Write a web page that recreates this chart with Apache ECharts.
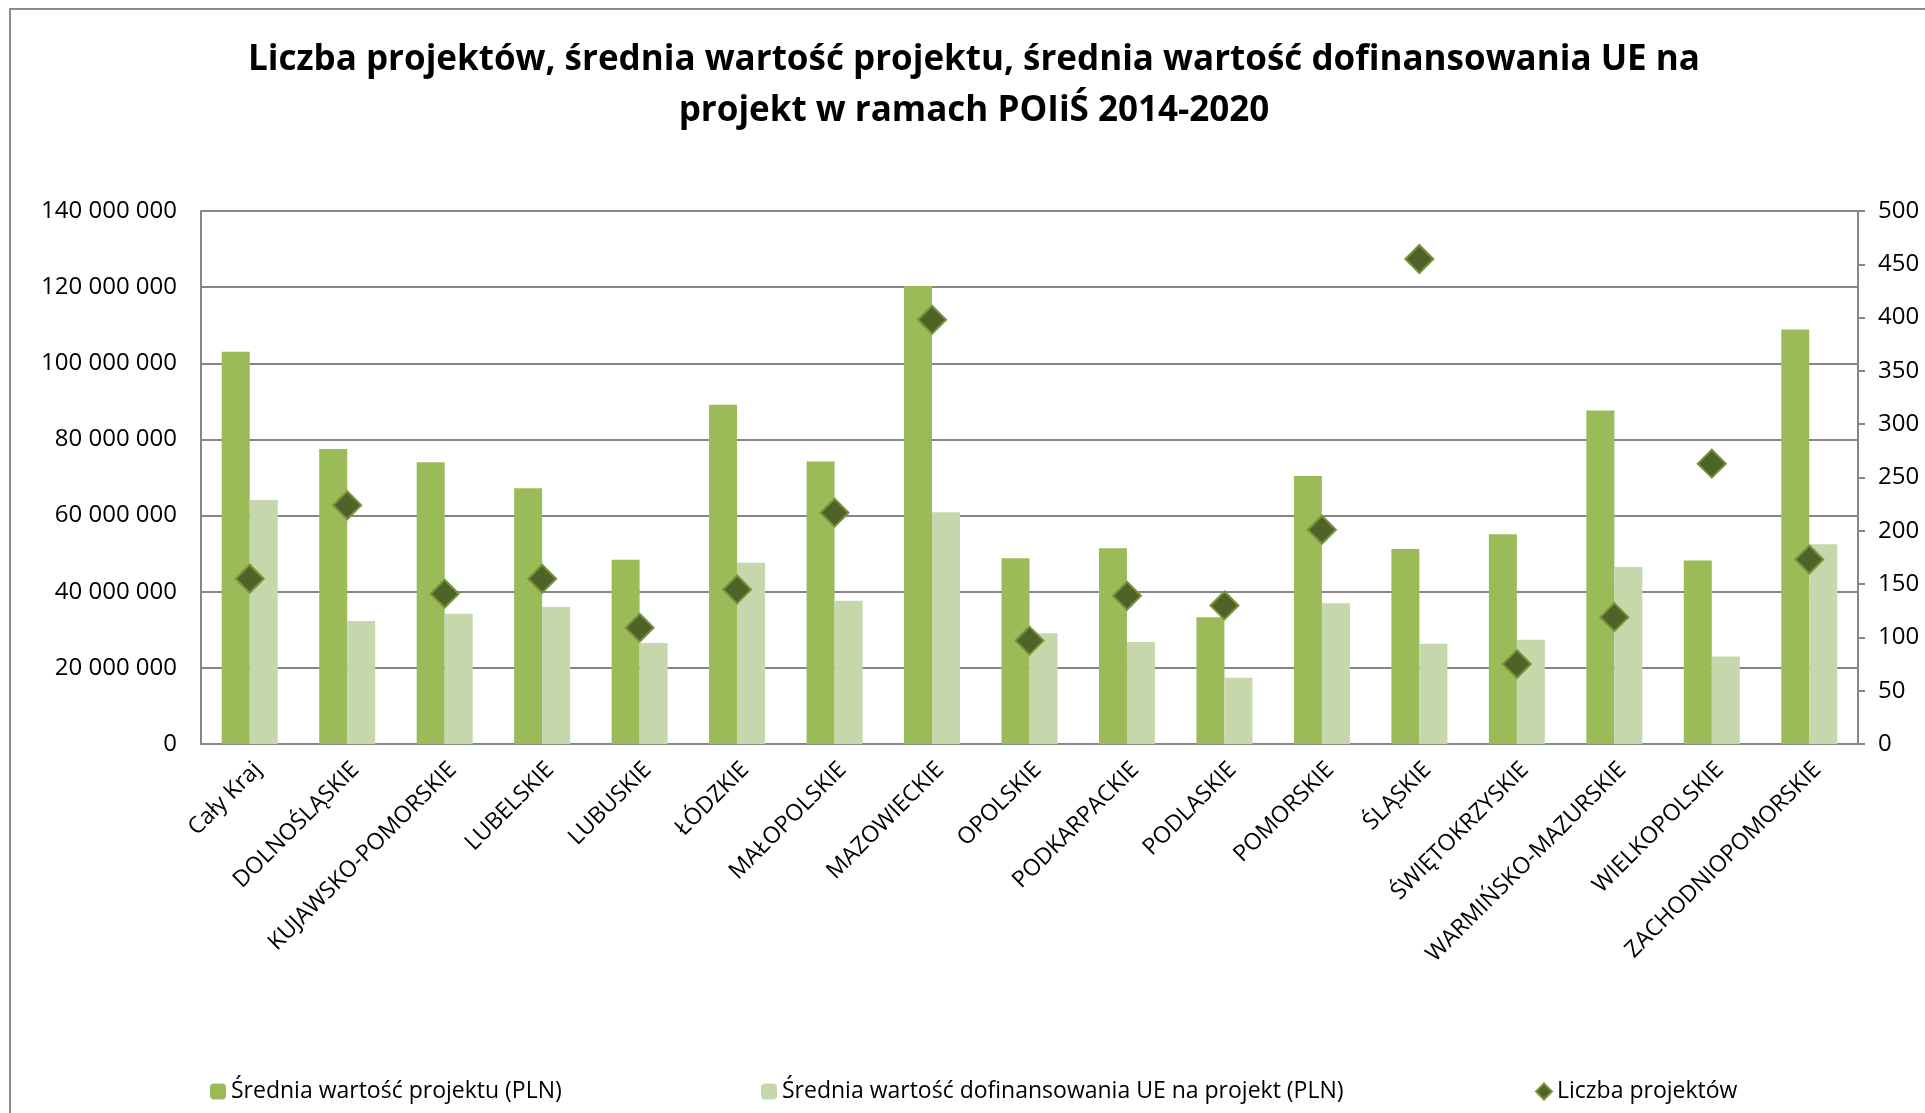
<!DOCTYPE html>
<html>
<head>
<meta charset="utf-8">
<script src="https://cdn.jsdelivr.net/npm/echarts@6/dist/echarts.min.js"></script>
<style>
  html, body { margin: 0; padding: 0; background: #fff; }
  #chart { width: 1925px; height: 1113px; }
</style>
</head>
<body>
<div id="chart"></div>
<script>
// Dane
const regiony = ['Cały Kraj', 'DOLNOŚLĄSKIE', 'KUJAWSKO-POMORSKIE', 'LUBELSKIE', 'LUBUSKIE', 'ŁÓDZKIE',
    'MAŁOPOLSKIE', 'MAZOWIECKIE', 'OPOLSKIE', 'PODKARPACKIE', 'PODLASKIE', 'POMORSKIE', 'ŚLĄSKIE',
    'ŚWIĘTOKRZYSKIE', 'WARMIŃSKO-MAZURSKIE', 'WIELKOPOLSKIE', 'ZACHODNIOPOMORSKIE'];

const sredniaWartosc = [103000000, 77500000, 74000000, 67200000, 48400000, 89100000, 74200000, 120300000,
    48800000, 51400000, 33300000, 70400000, 51200000, 55100000, 87600000, 48200000, 108900000];

const sredniaDofinansowania = [64100000, 32300000, 34200000, 36000000, 26500000, 47600000, 37600000, 60900000,
    29100000, 26800000, 17400000, 37000000, 26300000, 27400000, 46500000, 23000000, 52500000];

const liczbaProjektow = [155, 224, 141, 155, 109, 145, 217, 398, 97, 139, 130, 201, 455, 75, 119, 263, 173];

const nazwySerii = ['Średnia wartość projektu (PLN)', 'Średnia wartość dofinansowania UE na projekt (PLN)', 'Liczba projektów'];

const FONT = '"Open Sans", "Noto Sans", sans-serif';
const SZARY = '#868686';

// Format liczb ze spacją jako separatorem tysięcy
function formatPL(v) {
    return String(v).replace(/\B(?=(\d{3})+(?!\d))/g, ' ');
}

const chart = echarts.init(document.getElementById('chart'));

chart.setOption({
    backgroundColor: '#fff',
    animation: false,
    title: {
        text: 'Liczba projektów, średnia wartość projektu, średnia wartość dofinansowania UE na\nprojekt w ramach POIiŚ 2014-2020',
        left: 969,
        top: 30,
        textAlign: 'center',
        textStyle: { fontFamily: FONT, fontWeight: 'bold', fontSize: 35, lineHeight: 51, color: '#000' }
    },
    graphic: [{
        type: 'rect',
        shape: { x: 10, y: 9, width: 2000, height: 1200 },
        style: { fill: 'none', stroke: '#8c8c8c', lineWidth: 2 },
        silent: true
    }],
    legend: [0, 1, 2].map((i, k) => ({
        data: [nazwySerii[i]],
        left: [205, 756, 1530][k],
        top: 1075,
        itemWidth: 16,
        itemHeight: 16,
        itemGap: 6,
        textStyle: { fontFamily: FONT, fontSize: 23, color: '#000' }
    })),
    grid: { left: 201, right: 67, top: 211, bottom: 369 },
    xAxis: {
        type: 'category',
        data: regiony,
        axisLine: { lineStyle: { color: SZARY, width: 2 } },
        axisTick: { show: false },
        axisLabel: {
            rotate: 45,
            interval: 0,
            margin: 14,
            verticalAlign: 'top',
            fontFamily: FONT,
            fontSize: 23,
            color: '#000'
        }
    },
    yAxis: [{
        type: 'value',
        min: 0,
        max: 140000000,
        interval: 20000000,
        axisLine: { show: true, lineStyle: { color: SZARY, width: 2 } },
        axisTick: { show: false },
        splitLine: { lineStyle: { color: SZARY, width: 2 } },
        axisLabel: {
            margin: 24,
            fontFamily: FONT,
            fontSize: 24,
            color: '#000',
            formatter: formatPL
        }
    }, {
        type: 'value',
        min: 0,
        max: 500,
        interval: 50,
        axisLine: { show: true, lineStyle: { color: SZARY, width: 2 } },
        axisTick: { show: true, inside: false, length: 7, lineStyle: { color: SZARY, width: 2 } },
        splitLine: { show: false },
        axisLabel: {
            margin: 20,
            fontFamily: FONT,
            fontSize: 24,
            color: '#000'
        }
    }],
    series: [{
        name: nazwySerii[0],
        type: 'bar',
        data: sredniaWartosc,
        barWidth: 28,
        barGap: '0%',
        itemStyle: { color: '#9BBB59' }
    }, {
        name: nazwySerii[1],
        type: 'bar',
        data: sredniaDofinansowania,
        barWidth: 28,
        itemStyle: { color: '#C6D7AC' }
    }, {
        name: nazwySerii[2],
        type: 'scatter',
        yAxisIndex: 1,
        data: liczbaProjektow,
        symbol: 'diamond',
        symbolSize: [28, 28],
        itemStyle: { color: '#4F6228', opacity: 1, borderColor: '#77933C', borderWidth: 2 }
    }]
});
</script>
</body>
</html>
